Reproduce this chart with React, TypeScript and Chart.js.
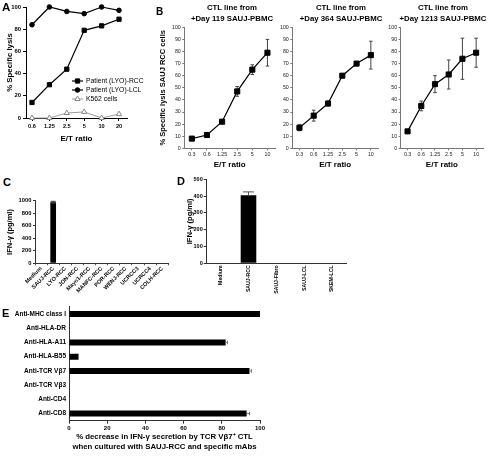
import React, { useEffect, useRef } from 'react';
import { Chart, registerables } from 'chart.js';
Chart.register(...registerables);

const FONT = "'Liberation Sans', Arial, Helvetica, sans-serif";

// ---- Panel A ----
const aRatios = ['0.6', '1.25', '2.5', '5', '10', '20'];
const aLyoRcc = [14, 30, 44, 79, 83, 89];
const aLyoLcl = [84, 100, 96, 94, 100, 97];
const aK562 = [0, 0, 4.5, 5.5, 0, 3.5];

// ---- Panel B ----
const bRatios = ['0.3', '0.6', '1.25', '2.5', '5', '10'];
const bDay119 = [8, 11, 22, 47, 65, 79];
const bDay119Err = [1.5, 2, 1, 4, 4, 11];
const bDay364 = [17, 27, 37, 60, 70, 77];
const bDay364Err = [2.5, 4.5, 2, 1, 1, 11.5];
const bDay1213 = [14, 35, 53, 61, 74, 79];
const bDay1213Err = [1, 4, 7, 12, 17, 12];

// ---- Panel C ----
const cTargets = ['Medium', 'SAUJ-RCC', 'LYO-RCC', 'JON-RCC', 'Mayo1-RCC', 'MANFC-RCC', 'POR-RCC', 'WENJ-RCC', 'UCRCC3', 'UCRCC4', 'COLH-RCC'];
const cIfn = [0, 975, 0, 0, 0, 0, 0, 0, 0, 0, 0];
const cIfnErr = [0, 15, 0, 0, 0, 0, 0, 0, 0, 0, 0];

// ---- Panel D ----
const dTargets = ['Medium', 'SAUJ-RCC', 'SAUJ-Fibro', 'SAUJ-LCL', 'SKEM-LCL'];
const dIfn = [0, 405, 0, 0, 0];
const dIfnErr = [0, 20, 0, 0, 0];

// ---- Panel E ----
const eAntibodies = ['Anti-MHC class I', 'Anti-HLA-DR', 'Anti-HLA-A11', 'Anti-HLA-B55', 'Anti-TCR V\u03b27', 'Anti-TCR V\u03b23', 'Anti-CD4', 'Anti-CD8'];
const eDecrease = [100, 0, 82, 5, 94.5, 0, 0, 93];
const eDecreaseErr = [0, 0, 1, 0, 1, 0, 0, 1.5];

const f = (size: number, weight: any = 'bold') => ({ family: FONT, size, weight, lineHeight: 1.2 });
const fixW = (w: number) => (s: any) => { s.width = w; };
const fixH = (h: number) => (s: any) => { s.height = h; };
const plain = (v: any) => String(v);

const errorBars = {
  id: 'errorBars',
  draw(chart: any) {
    const ctx = chart.ctx;
    const horizontal = chart.options.indexAxis === 'y';
    chart.data.datasets.forEach((ds: any, di: number) => {
      const errs = ds.errors;
      if (!errs) return;
      const meta = chart.getDatasetMeta(di);
      const vScale = horizontal ? chart.scales.x : chart.scales.y;
      ctx.save();
      ctx.strokeStyle = ds.errorColor || '#000';
      ctx.lineWidth = 1;
      meta.data.forEach((el: any, i: number) => {
        const e = errs[i];
        if (!e) return;
        const raw = ds.data[i];
        const v = typeof raw === 'number' ? raw : raw.y;
        const hi = vScale.getPixelForValue(v + e);
        const lo = vScale.getPixelForValue(ds.errorUpOnly ? v : v - e);
        const cap = ds.errorCap || 2;
        ctx.beginPath();
        if (horizontal) {
          const y = el.y;
          ctx.moveTo(lo, y); ctx.lineTo(hi, y);
          ctx.moveTo(hi, y - cap); ctx.lineTo(hi, y + cap);
        } else {
          const x = el.x;
          ctx.moveTo(x, lo); ctx.lineTo(x, hi);
          ctx.moveTo(x - cap, hi); ctx.lineTo(x + cap, hi);
          if (!ds.errorUpOnly) { ctx.moveTo(x - cap, lo); ctx.lineTo(x + cap, lo); }
        }
        ctx.stroke();
      });
      ctx.restore();
    });
  },
  beforeDatasetsDraw(chart: any) { if (chart.config.type === 'line') (this as any).draw(chart); },
  afterDatasetsDraw(chart: any) { if (chart.config.type !== 'line') (this as any).draw(chart); },
};

function drawMarker(ctx: CanvasRenderingContext2D, style: string, x: number, y: number, r: number, fill: string, stroke: string) {
  ctx.save();
  ctx.fillStyle = fill; ctx.strokeStyle = stroke; ctx.lineWidth = 1;
  ctx.beginPath();
  if (style === 'rect') {
    const s = r * Math.SQRT1_2;
    ctx.rect(x - s, y - s, 2 * s, 2 * s);
  } else if (style === 'triangle') {
    ctx.moveTo(x, y - r);
    ctx.lineTo(x + r * 0.866, y + r * 0.5);
    ctx.lineTo(x - r * 0.866, y + r * 0.5);
    ctx.closePath();
  } else {
    ctx.arc(x, y, r, 0, Math.PI * 2);
  }
  ctx.fill(); ctx.stroke();
  ctx.restore();
}

const insideLegend = {
  id: 'insideLegend',
  afterDraw(chart: any, _a: any, opts: any) {
    if (!opts || !opts.show) return;
    const ctx = chart.ctx;
    ctx.save();
    ctx.font = `normal ${opts.fontSize}px ${FONT}`;
    ctx.textBaseline = 'middle';
    chart.data.datasets.forEach((ds: any, i: number) => {
      const yy = opts.y + i * opts.gap;
      ctx.strokeStyle = ds.borderColor; ctx.lineWidth = ds.borderWidth;
      ctx.beginPath(); ctx.moveTo(opts.x, yy); ctx.lineTo(opts.x + opts.len, yy); ctx.stroke();
      drawMarker(ctx, ds.pointStyle, opts.x + opts.len / 2, yy, ds.pointRadius, ds.pointBackgroundColor || ds.backgroundColor, ds.pointBorderColor || ds.borderColor);
      ctx.fillStyle = '#000';
      ctx.fillText(ds.label, opts.x + opts.len + 3, yy);
    });
    ctx.restore();
  },
};

const base = { animation: false, responsive: false, maintainAspectRatio: false, devicePixelRatio: 1 };

function configA(): any {
  const pts = (arr: number[]) => arr.map((y, i) => ({ x: i, y }));
  return {
    type: 'line',
    data: {
      datasets: [
        { label: 'Patient (LYO)-RCC', data: pts(aLyoRcc), borderColor: '#000', backgroundColor: '#000', pointStyle: 'rect', pointRadius: 3, borderWidth: 1.2, pointBorderWidth: 1, clip: false },
        { label: 'Patient (LYO)-LCL', data: pts(aLyoLcl), borderColor: '#000', backgroundColor: '#000', pointStyle: 'circle', pointRadius: 2.3, borderWidth: 1.2, pointBorderWidth: 1, clip: false },
        { label: 'K562 cells', data: pts(aK562), borderColor: '#9a9a9a', backgroundColor: '#fff', pointBackgroundColor: '#fff', pointBorderColor: '#888', pointStyle: 'triangle', pointRadius: 3, borderWidth: 1, pointBorderWidth: 1, clip: false },
      ],
    },
    options: {
      ...base,
      layout: { padding: { top: 7, right: 23, left: 0, bottom: 0 } },
      plugins: { legend: { display: false }, tooltip: { enabled: false }, insideLegend: { show: true, x: 72, y: 81, gap: 9, len: 11, fontSize: 6.8 } },
      scales: {
        x: {
          type: 'linear', min: -0.345, max: 5.46,
          afterBuildTicks: (s: any) => { s.ticks = aRatios.map((_, i) => ({ value: i })); },
          afterFit: fixH(32),
          ticks: { callback: (v: any) => aRatios[v], font: f(5.6), color: '#000', padding: 2, maxRotation: 0, autoSkip: false },
          grid: { drawOnChartArea: false, tickLength: 3, color: '#000' },
          border: { color: '#000' },
          title: { display: true, text: 'E/T ratio', font: f(8), color: '#000', padding: { top: 0, bottom: 6.5 } },
        },
        y: {
          min: 0, max: 100,
          afterFit: fixW(26),
          ticks: { stepSize: 20, font: f(5.9), color: '#000', padding: 2, callback: plain },
          grid: { drawOnChartArea: false, tickLength: 3, color: '#000' },
          border: { color: '#000' },
          title: { display: true, text: '% Specific lysis', font: f(7.8), color: '#000', padding: { top: 5.2, bottom: 0 } },
        },
      },
    },
    plugins: [insideLegend],
  };
}

function configB(values: number[], errs: number[], axisW: number, padRight: number, yTitle: string | null): any {
  return {
    type: 'line',
    data: {
      datasets: [
        { data: values.map((y, i) => ({ x: i, y })), errors: errs, errorCap: 1.8, errorColor: '#444', borderColor: '#000', backgroundColor: '#000', pointStyle: 'rect', pointRadius: 3.6, pointBorderWidth: 1, borderWidth: 1.2, clip: false },
      ],
    },
    options: {
      ...base,
      layout: { padding: { top: 7.3, right: padRight, left: 0, bottom: 0 } },
      plugins: { legend: { display: false }, tooltip: { enabled: false } },
      scales: {
        x: {
          type: 'linear', min: -0.5, max: 5.5,
          afterBuildTicks: (s: any) => { s.ticks = bRatios.map((_, i) => ({ value: i })); },
          afterFit: fixH(21.7),
          ticks: { callback: (v: any) => bRatios[v], font: f(5.3, 'normal'), color: '#222', padding: 1, maxRotation: 0, autoSkip: false },
          grid: { drawOnChartArea: false, tickLength: 2, color: '#777' },
          border: { color: '#777' },
          title: { display: true, text: 'E/T ratio', font: f(8), color: '#000', padding: { top: 0, bottom: 0.8 } },
        },
        y: {
          min: 0, max: 100,
          afterFit: fixW(axisW),
          ticks: { stepSize: 10, font: f(5.3, 'normal'), color: '#222', padding: 1.5, callback: plain },
          grid: { drawOnChartArea: false, tickLength: 2, color: '#777' },
          border: { color: '#777' },
          title: { display: !!yTitle, text: yTitle || '', font: f(7.5), color: '#000', padding: { top: 8.5, bottom: 0 } },
        },
      },
    },
    plugins: [errorBars],
  };
}

function configC(): any {
  return {
    type: 'bar',
    data: { labels: cTargets, datasets: [{ data: cIfn, errors: cIfnErr, errorCap: 2.5, errorColor: '#333', backgroundColor: '#000', barPercentage: 0.47, categoryPercentage: 1 }] },
    options: {
      ...base,
      layout: { padding: { top: 10.7, right: 3.7, left: 0, bottom: 0 } },
      plugins: { legend: { display: false }, tooltip: { enabled: false } },
      scales: {
        x: {
          afterFit: fixH(41.7),
          ticks: { font: f(5.6), color: '#000', minRotation: 45, maxRotation: 45, padding: 0, autoSkip: false },
          grid: { drawOnChartArea: false, tickLength: 2, color: '#555' },
          border: { color: '#333' },
        },
        y: {
          min: 0, max: 1000,
          afterFit: fixW(35),
          ticks: { stepSize: 200, font: f(5.8), color: '#000', padding: 1.5, callback: plain },
          grid: { drawOnChartArea: false, tickLength: 2, color: '#333' },
          border: { color: '#333' },
          title: { display: true, text: 'IFN-\u03b3 (pg/ml)', font: f(7.5), color: '#000', padding: { top: 5.5, bottom: 0 } },
        },
      },
    },
    plugins: [errorBars],
  };
}

function configD(): any {
  return {
    type: 'bar',
    data: { labels: dTargets, datasets: [{ data: dIfn, errors: dIfnErr, errorUpOnly: true, errorCap: 5.5, errorColor: '#555', backgroundColor: '#000', barPercentage: 0.56, categoryPercentage: 1 }] },
    options: {
      ...base,
      layout: { padding: { top: 9.3, right: 4, left: 0, bottom: 0 } },
      plugins: { legend: { display: false }, tooltip: { enabled: false } },
      scales: {
        x: {
          afterFit: fixH(41.7),
          ticks: { font: f(5.2), color: '#000', minRotation: 90, maxRotation: 90, padding: 2, autoSkip: false },
          grid: { drawOnChartArea: false, tickLength: 0, color: '#333' },
          border: { color: '#333' },
        },
        y: {
          min: 0, max: 500,
          afterFit: fixW(26.7),
          ticks: { stepSize: 100, font: f(5.5), color: '#000', padding: 1, callback: plain },
          grid: { drawOnChartArea: false, tickLength: 3, color: '#333' },
          border: { color: '#333' },
          title: { display: true, text: 'IFN-\u03b3 (pg/ml)', font: f(7.5), color: '#000', padding: { top: 5.5, bottom: 0 } },
        },
      },
    },
    plugins: [errorBars],
  };
}

function configE(): any {
  return {
    type: 'bar',
    data: { labels: eAntibodies, datasets: [{ data: eDecrease, errors: eDecreaseErr, errorUpOnly: true, errorCap: 1.8, errorColor: '#777', backgroundColor: '#000', barPercentage: 0.42, categoryPercentage: 1 }] },
    options: {
      ...base,
      indexAxis: 'y',
      layout: { padding: { top: 6.3, right: 10, left: 0, bottom: 0 } },
      plugins: { legend: { display: false }, tooltip: { enabled: false } },
      scales: {
        x: {
          min: 0, max: 100,
          afterFit: fixH(38.3),
          ticks: { stepSize: 20, font: f(6), color: '#000', padding: 1.3, maxRotation: 0, callback: plain },
          grid: { drawOnChartArea: false, tickLength: 3, color: '#333' },
          border: { color: '#333' },
          title: {
            display: true,
            text: ['% decrease in IFN-\u03b3 secretion by TCR V\u03b27\u207a CTL', 'when cultured with SAUJ-RCC and specific mAbs'],
            font: { family: FONT, size: 7.8, weight: 'bold', lineHeight: 1.28 }, color: '#000', padding: { top: 0, bottom: 7 },
          },
        },
        y: {
          afterFit: fixW(69),
          ticks: { font: f(6.5), color: '#000', padding: 3, autoSkip: false },
          grid: { drawOnChartArea: false, tickLength: 0, color: '#333' },
          border: { color: '#333' },
        },
      },
    },
    plugins: [errorBars],
  };
}

function ChartBox({ left, top, width, height, make }: { left: number; top: number; width: number; height: number; make: () => any }) {
  const ref = useRef<HTMLCanvasElement>(null);
  useEffect(() => {
    const c = new Chart(ref.current as HTMLCanvasElement, make());
    return () => c.destroy();
  }, []);
  return (
    <div style={{ position: 'absolute', left, top, width, height }}>
      <canvas ref={ref} width={width} height={height} style={{ width, height, display: 'block' }} />
    </div>
  );
}

function Txt({ x, y, size, children, center }: { x: number; y: number; size: number; children: any; center?: boolean }) {
  return (
    <div
      style={{
        position: 'absolute',
        left: center ? x - 100 : x,
        width: center ? 200 : undefined,
        top: y - size / 2,
        fontFamily: FONT,
        fontWeight: 'bold',
        fontSize: size,
        lineHeight: `${size}px`,
        textAlign: center ? 'center' : 'left',
        whiteSpace: 'nowrap',
        color: '#000',
      }}
    >
      {children}
    </div>
  );
}

export default function App() {
  return (
    <div style={{ position: 'absolute', left: 0, top: 0, width: 488, height: 459, background: '#fff', overflow: 'hidden' }}>
      <ChartBox left={0} top={0} width={150} height={150} make={configA} />
      <ChartBox left={150} top={20} width={130} height={150} make={() => configB(bDay119, bDay119Err, 34.3, 3, '% Specific lysis SAUJ RCC cells')} />
      <ChartBox left={270} top={20} width={113} height={150} make={() => configB(bDay364, bDay364Err, 22.3, 3, null)} />
      <ChartBox left={380} top={20} width={108} height={150} make={() => configB(bDay1213, bDay1213Err, 20.7, 2, null)} />
      <ChartBox left={0} top={190} width={172} height={115} make={configC} />
      <ChartBox left={180} top={170} width={170} height={135} make={configD} />
      <ChartBox left={0} top={300} width={270} height={159} make={configE} />

      <Txt x={2} y={7.5} size={11.5}>A</Txt>
      <Txt x={156} y={12} size={10}>B</Txt>
      <Txt x={3} y={182} size={11}>C</Txt>
      <Txt x={177} y={181} size={11}>D</Txt>
      <Txt x={2} y={313} size={11}>E</Txt>

      <Txt x={232} y={8.3} size={7.8} center>CTL line from</Txt>
      <Txt x={232} y={18.5} size={7.8} center>+Day 119 SAUJ-PBMC</Txt>
      <Txt x={341} y={8.3} size={7.8} center>CTL line from</Txt>
      <Txt x={341} y={18.5} size={7.8} center>+Day 364 SAUJ-PBMC</Txt>
      <Txt x={443} y={8.3} size={7.8} center>CTL line from</Txt>
      <Txt x={443} y={18.5} size={7.8} center>+Day 1213 SAUJ-PBMC</Txt>
    </div>
  );
}
